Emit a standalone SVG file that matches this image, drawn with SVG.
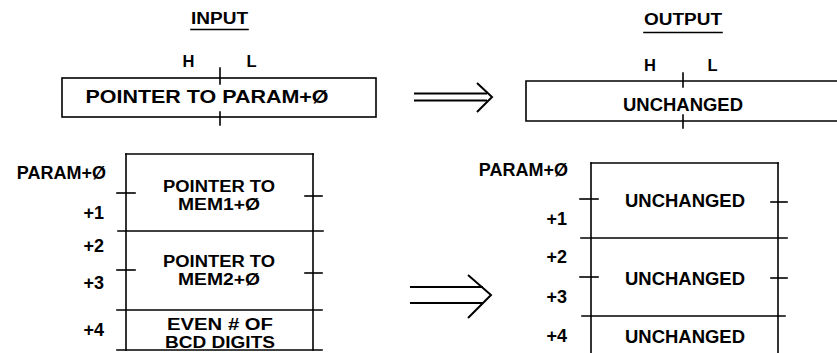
<svg xmlns="http://www.w3.org/2000/svg" width="837" height="353" viewBox="0 0 837 353">
<style>
text{font-family:"Liberation Sans",Arial,sans-serif;font-weight:bold;fill:#000;font-size:18px}
.c{text-anchor:middle}
.r{text-anchor:end}
.t{font-size:16px}
.hl{font-size:16.5px}
.m{font-size:15.8px}
.ln{stroke:#000;stroke-width:1.6;fill:none;stroke-linecap:square}
.ar{stroke:#000;stroke-width:2;fill:none}
</style>
<rect width="837" height="353" fill="#fff"/>
<g id="title-input">
<text class="c t" x="219.5" y="24" textLength="57" lengthAdjust="spacingAndGlyphs">INPUT</text>
<line class="ln" x1="191" y1="29.5" x2="248" y2="29.5" stroke-width="1.2"/>
</g>
<g id="title-output">
<text class="c t" x="683" y="25" textLength="78" lengthAdjust="spacingAndGlyphs">OUTPUT</text>
<line class="ln" x1="644" y1="32.5" x2="722" y2="32.5" stroke-width="1.2"/>
</g>
<g id="reg-in">
<text class="c hl" x="188.5" y="67">H</text>
<text class="c hl" x="251.5" y="67">L</text>
<rect class="ln" x="62" y="78" width="314" height="39"/>
<line class="ln" x1="220" y1="68" x2="220" y2="84"/>
<line class="ln" x1="220" y1="112" x2="220" y2="125"/>
<text class="c" x="207" y="103" textLength="243" lengthAdjust="spacingAndGlyphs">POINTER TO PARAM+Ø</text>
</g>
<g id="reg-out">
<text class="c hl" x="650" y="71">H</text>
<text class="c hl" x="712.5" y="71">L</text>
<polyline class="ln" points="837,81 526,81 526,121 837,121"/>
<line class="ln" x1="683" y1="73" x2="683" y2="87"/>
<line class="ln" x1="683" y1="115" x2="683" y2="128"/>
<text class="c" x="683" y="111" textLength="120" lengthAdjust="spacingAndGlyphs">UNCHANGED</text>
</g>
<g id="mem-in">
<text class="r" x="106" y="179">PARAM+Ø</text>
<text class="r" x="104" y="219">+1</text>
<text class="r" x="104" y="252">+2</text>
<text class="r" x="104" y="289">+3</text>
<text class="r" x="104" y="336">+4</text>
<line class="ln" x1="126" y1="154" x2="313" y2="154"/>
<line class="ln" x1="126" y1="154" x2="126" y2="350"/>
<line class="ln" x1="313" y1="154" x2="313" y2="350"/>
<line class="ln" x1="118" y1="231" x2="323" y2="231"/>
<line class="ln" x1="117" y1="310" x2="322" y2="310"/>
<line class="ln" x1="117" y1="350" x2="322" y2="350"/>
<line class="ln" x1="117" y1="193" x2="135" y2="193"/>
<line class="ln" x1="117" y1="270" x2="135" y2="270"/>
<line class="ln" x1="305" y1="196" x2="322" y2="196"/>
<line class="ln" x1="305" y1="273" x2="322" y2="273"/>
<text class="c m" x="219" y="192" textLength="112" lengthAdjust="spacingAndGlyphs">POINTER TO</text>
<text class="c m" x="219" y="210" textLength="82" lengthAdjust="spacingAndGlyphs">MEM1+Ø</text>
<text class="c m" x="219" y="267" textLength="112" lengthAdjust="spacingAndGlyphs">POINTER TO</text>
<text class="c m" x="219" y="285" textLength="82" lengthAdjust="spacingAndGlyphs">MEM2+Ø</text>
<text class="c m" x="220" y="330" textLength="106" lengthAdjust="spacingAndGlyphs">EVEN # OF</text>
<text class="c m" x="220" y="348" textLength="110" lengthAdjust="spacingAndGlyphs">BCD DIGITS</text>
</g>
<g id="mem-out">
<text class="r" x="568" y="176">PARAM+Ø</text>
<text class="r" x="567" y="225">+1</text>
<text class="r" x="567" y="263">+2</text>
<text class="r" x="567" y="303">+3</text>
<text class="r" x="567" y="342">+4</text>
<line class="ln" x1="591" y1="163" x2="778" y2="163"/>
<line class="ln" x1="591" y1="163" x2="591" y2="353"/>
<line class="ln" x1="778" y1="163" x2="778" y2="353"/>
<line class="ln" x1="581" y1="238" x2="787" y2="238"/>
<line class="ln" x1="582" y1="316" x2="785" y2="316"/>
<line class="ln" x1="580" y1="199" x2="598" y2="199"/>
<line class="ln" x1="580" y1="277" x2="598" y2="277"/>
<line class="ln" x1="771" y1="202" x2="787" y2="202"/>
<line class="ln" x1="771" y1="278" x2="787" y2="278"/>
<text class="c" x="685" y="207" textLength="120" lengthAdjust="spacingAndGlyphs">UNCHANGED</text>
<text class="c" x="685" y="285" textLength="120" lengthAdjust="spacingAndGlyphs">UNCHANGED</text>
<text class="c" x="685" y="343" textLength="120" lengthAdjust="spacingAndGlyphs">UNCHANGED</text>
</g>
<g id="connectors">
<line class="ar" x1="414" y1="93.5" x2="487" y2="93.5"/>
<line class="ar" x1="414" y1="100.5" x2="487" y2="100.5"/>
<polyline class="ar" points="477,83 492,97 477,112"/>
<line class="ar" x1="410" y1="287" x2="483" y2="287"/>
<line class="ar" x1="410" y1="303" x2="483" y2="303"/>
<polyline class="ar" points="468,275 491,295 468,318"/>
</g>
</svg>
